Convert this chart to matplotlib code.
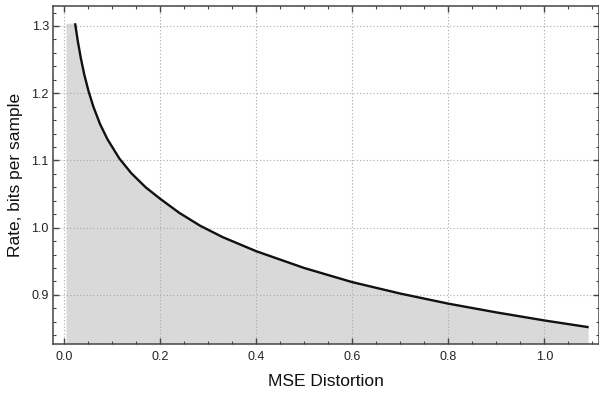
import matplotlib.pyplot as plt
from matplotlib.ticker import MultipleLocator

# values
distortion = [0.023, 0.0285, 0.0347, 0.042, 0.051, 0.061, 0.075, 0.09, 0.115,
              0.14, 0.17, 0.2, 0.24, 0.283, 0.33, 0.4, 0.5, 0.6, 0.7, 0.8,
              0.9, 1.0, 1.092]
rate = [1.304, 1.278, 1.253, 1.228, 1.203, 1.180, 1.154, 1.132, 1.103,
        1.081, 1.060, 1.043, 1.022, 1.003, 0.986, 0.965, 0.940, 0.919, 0.902, 0.887,
        0.874, 0.862, 0.852]
fill_left = 0.005
fill_top = 1.303

plt.rcParams['font.family'] = ['Liberation Sans', 'DejaVu Sans']

fig = plt.figure(figsize=(5.99, 3.98), dpi=100)
ax = fig.add_axes([53 / 599, 54 / 398, 545.5 / 599, 338 / 398])

# shaded area under the curve
fill_x = [fill_left] + distortion
fill_y = [fill_top] + rate
ax.fill_between(fill_x, 0.0, fill_y, color='#d9d9d9', lw=0, zorder=1)
ax.plot(distortion, rate, color='#111111', lw=1.7, solid_joinstyle='round',
        solid_capstyle='butt', zorder=3)

ax.set_xlim(-0.023, 1.1125)
ax.set_ylim(0.827, 1.3297)

ax.xaxis.set_major_locator(MultipleLocator(0.2))
ax.xaxis.set_minor_locator(MultipleLocator(0.05))
ax.yaxis.set_major_locator(MultipleLocator(0.1))
ax.yaxis.set_minor_locator(MultipleLocator(0.02))
ax.xaxis.set_major_formatter(lambda v, p: f"{v:.1f}")
ax.yaxis.set_major_formatter(lambda v, p: f"{v:.1f}")

ax.grid(True, which='major', color='#aaaaaa', linestyle=(0, (1, 2)), lw=0.8, zorder=2)
ax.tick_params(which='both', direction='in', top=True, right=True, color='#444444',
               labelsize=9, labelcolor='#222222')
ax.tick_params(which='major', length=4, width=1)
ax.tick_params(which='minor', length=2.5, width=0.8)
ax.tick_params(axis='x', pad=5)
ax.tick_params(axis='y', pad=3)
for s in ax.spines.values():
    s.set_color('#444444')
    s.set_linewidth(1.1)

ax.set_xlabel('MSE Distortion', fontsize=12.5, color='#111111', labelpad=8)
ax.set_ylabel('Rate, bits per sample', fontsize=12.5, color='#111111', labelpad=6)

fig.savefig('out.png', dpi=100)
